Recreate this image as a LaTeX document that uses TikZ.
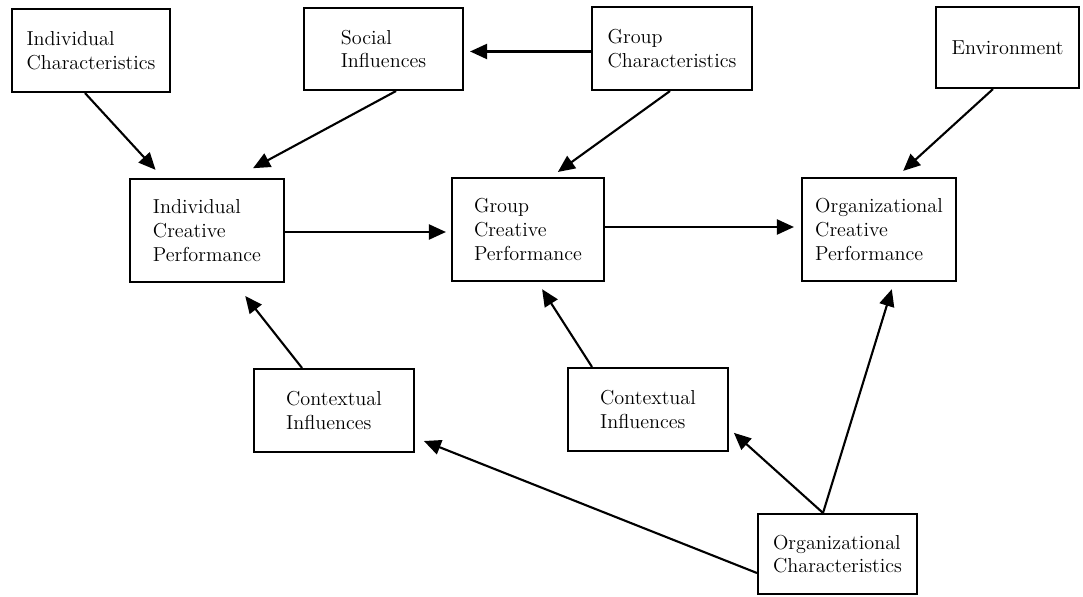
\documentclass[tikz,border=0pt]{standalone}
\usepackage{tikz}
\usetikzlibrary{arrows.meta}

\begin{document}
\begin{tikzpicture}[
    box/.style={draw, line width=1.2pt, align=left, font=\fontsize{11.5}{13.5}\selectfont,
        minimum width=3.16cm, minimum height=1.66cm, inner sep=2pt},
    perf/.style={box, minimum width=3.08cm, minimum height=2.06cm},
    arr/.style={line width=1.2pt, -{Triangle[length=3.4mm, width=3mm]}}
]
    \useasboundingbox (0, 0) rectangle (21.66, 11.92);

    % influences on top row
    \node[box] (indchar) at (1.82, 10.91) {Individual\\Characteristics};
    \node[box, minimum width=3.18cm, minimum height=1.64cm] (social) at (7.67, 10.94) {Social\\Influences};
    \node[box, minimum width=3.2cm] (groupchar) at (13.44, 10.95) {Group\\Characteristics};
    \node[box, minimum width=2.86cm, minimum height=1.62cm] (env) at (20.15, 10.97) {Environment};

    % creative performance levels
    \node[perf] (icp) at (4.14, 7.31) {Individual\\Creative\\Performance};
    \node[perf, minimum width=3.04cm] (gcp) at (10.56, 7.33) {Group\\Creative\\Performance};
    \node[perf] (ocp) at (17.58, 7.33) {Organizational\\Creative\\Performance};

    % contextual influences
    \node[box, minimum width=3.2cm] (ctxleft) at (6.68, 3.71) {Contextual\\Influences};
    \node[box, minimum width=3.2cm] (ctxright) at (12.96, 3.73) {Contextual\\Influences};

    % organization
    \node[box, minimum width=3.18cm, minimum height=1.6cm] (orgchar) at (16.75, 0.84) {Organizational\\Characteristics};

    % top row arrows
    \draw[arr, shorten >=0.22cm] ([xshift=-0.12cm]indchar.south) -- ([xshift=-0.88cm]icp.north);
    \draw[arr, shorten >=0.41cm] ([xshift=0.25cm]social.south) -- ([xshift=0.56cm]icp.north);
    \draw[arr, shorten >=0.12cm] ([yshift=-0.06cm]groupchar.west) -- ([yshift=-0.06cm]groupchar.west -| social.east);
    \draw[arr, shorten >=0.17cm] ([xshift=-0.04cm]groupchar.south) -- ([xshift=0.46cm]gcp.north);
    \draw[arr, shorten >=0.18cm] ([xshift=-0.29cm]env.south) -- ([xshift=0.35cm]ocp.north);

    % between levels
    \draw[arr, shorten >=0.1cm] ([yshift=-0.03cm]icp.east) -- ([yshift=-0.03cm]icp.east -| gcp.west);
    \draw[arr, shorten >=0.14cm] ([yshift=0.05cm]gcp.east) -- ([yshift=0.05cm]gcp.east -| ocp.west);

    % from contextual influences
    \draw[arr, shorten >=0.33cm] ([xshift=-0.64cm]ctxleft.north) -- ([xshift=0.56cm]icp.south);
    \draw[arr, shorten >=0.17cm] ([xshift=-1.12cm]ctxright.north) -- ([xshift=0.19cm]gcp.south);

    % from organizational characteristics
    \draw[arr, shorten >=0.15cm] ([xshift=-0.29cm]orgchar.north) -- ([xshift=0.3cm]ocp.south);
    \draw[arr, shorten >=0.13cm] ([xshift=-0.29cm]orgchar.north) -- ([yshift=-0.38cm]ctxright.east);
    \draw[arr, shorten >=0.19cm] ([yshift=-0.38cm]orgchar.west) -- ([yshift=-0.54cm]ctxleft.east);
\end{tikzpicture}
\end{document}
